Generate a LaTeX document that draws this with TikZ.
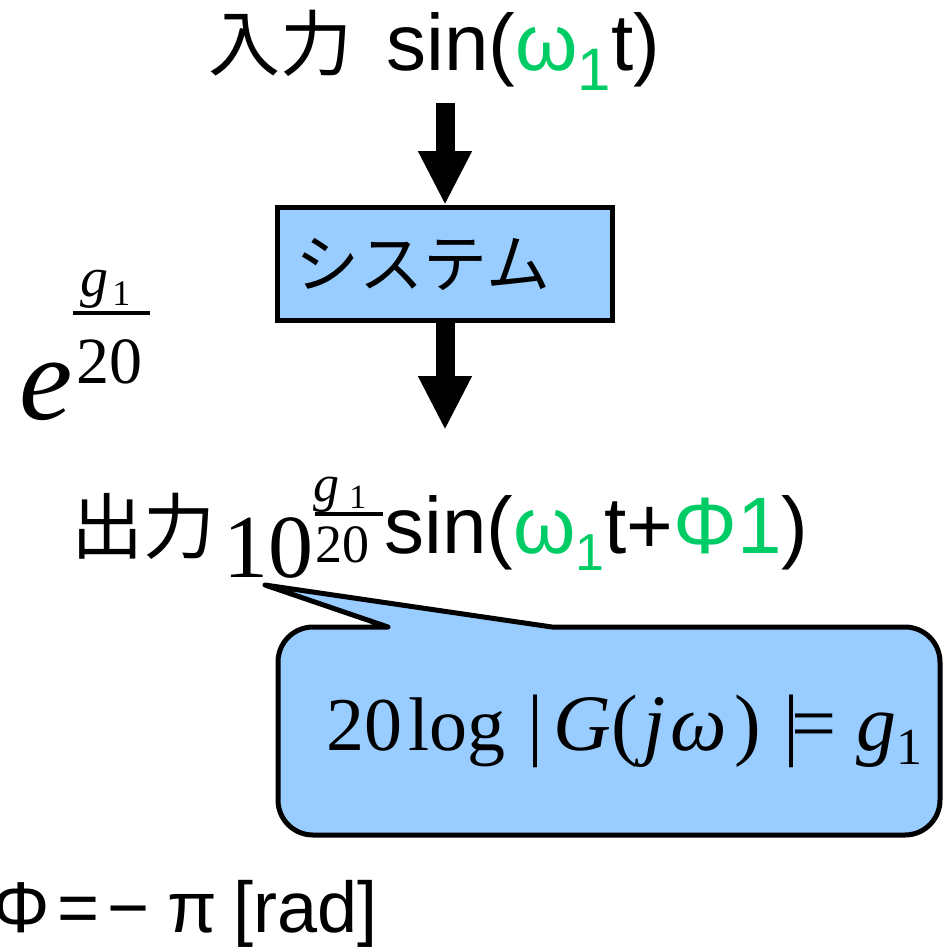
\documentclass[tikz,border=0pt]{standalone}
\usepackage{fontspec}
\setmainfont{Liberation Sans}
\newfontfamily\jpfont{Noto Sans CJK JP}
\newfontfamily\serfont{Liberation Serif}
\usetikzlibrary{arrows.meta}
\definecolor{BoxBlue}{RGB}{153,204,255}
\definecolor{PhaseGreen}{RGB}{0,204,102}
\newcommand{\fsz}[1]{\fontsize{#1pt}{#1pt}\selectfont}

\begin{document}
\begin{tikzpicture}[x=0.5pt, y=-0.5pt,
    txt/.style={inner sep=0pt, anchor=base west},
    sysbox/.style={draw, line width=2.5pt, fill=BoxBlue, inner sep=0pt,
        minimum width=167.5pt, minimum height=56.5pt},
    flow/.style={-{Triangle[length=27pt, width=25pt]}, line width=9.5pt},
    bubble/.style={draw, line width=2.5pt, fill=BoxBlue, line join=round},
    fracbar/.style={line width=2pt},
]
\useasboundingbox (0,0) rectangle (944,950);

% input
\node[txt, font=\fsz{40}] (intext) at (208,70)
    {{\jpfont\fsz{36}入力}\hspace{17pt}sin(\textcolor{PhaseGreen}{ω\raisebox{-10pt}{\fsz{30}1}}t)};

% system
\node[sysbox] (sysbox) at (445,264) {\jpfont\fsz{32}システム\kern22pt};

\coordinate (outtip) at (445,430);
\draw[flow, shorten <=6.5pt] (intext.south -| sysbox.north) -- (sysbox.north);
\draw[flow] (sysbox.south) -- (outtip);

% e^(g1/20)
\node[txt, font=\serfont\itshape\fsz{60}] (ebase) at (19,419) {e};
\node[txt, font=\serfont\itshape\fsz{28}] (enum) at (80,296) {g};
\node[txt, font=\serfont\fsz{18}] (enumsub) at (112,305) {1};
\draw[fracbar] (73,313) -- (150,313);
\node[txt, font=\serfont\fsz{33}] (eden) at (76,383) {20};

% output
\node[txt, font=\jpfont\fsz{36}] (outjp) at (71,553) {出力};
\node[txt, font=\serfont\fsz{45}] (outten) at (223,577) {10};
\node[txt, font=\serfont\itshape\fsz{26}] (outnum) at (313,501) {g};
\node[txt, font=\serfont\fsz{17}] (outnumsub) at (349,508) {1};
\draw[fracbar] (315,514) -- (383,514);
\node[txt, font=\serfont\fsz{27}] (outden) at (315,562) {20};
\node[txt, font=\fsz{40}] (outsin) at (384,553)
    {sin(\textcolor{PhaseGreen}{ω\raisebox{-8.5pt}{\fsz{26}1}}t+\textcolor{PhaseGreen}{Φ1})};

% gain callout
\coordinate (tip) at (265,585);
\draw[bubble] (tip) -- (552,627) -- (905,627)
    arc[start angle=90, end angle=0, radius=17.5pt] -- (940,800)
    arc[start angle=0, end angle=-90, radius=17.5pt] -- (313,835)
    arc[start angle=-90, end angle=-180, radius=17.5pt] -- (278,662)
    arc[start angle=180, end angle=90, radius=17.5pt] -- (388,627) -- cycle;
\node[txt, font=\serfont\fsz{38}] (gain) at (326,750)
    {20\hspace{3pt}log\hspace{11pt}{\fsz{40}|\hspace{5pt}\textit{G}(\hspace{3pt}\textit{j}\hspace{2pt}\textit{ω}\hspace{4pt})\hspace{11pt}|\hspace{-4pt}=}\hspace{10pt}{\fsz{40}\textit{g}}\raisebox{-7pt}{\fsz{26}1}};

% phase
\node[txt, font=\fsz{36}] (phase) at (-8,932) {Φ\hspace{4pt}=\hspace{4pt}−\hspace{9pt}π\hspace{8pt}[rad]};

\end{tikzpicture}
\end{document}
